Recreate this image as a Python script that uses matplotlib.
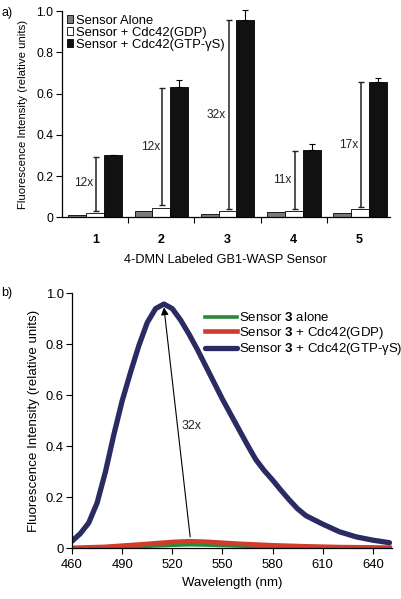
import numpy as np
import matplotlib
matplotlib.use('Agg')
import matplotlib.pyplot as plt

plt.rcParams['font.family'] = ['Liberation Sans', 'DejaVu Sans']
plt.rcParams['font.size'] = 9
plt.rcParams['mathtext.fontset'] = 'custom'
plt.rcParams['mathtext.rm'] = 'Liberation Sans'
plt.rcParams['mathtext.bf'] = 'Liberation Sans:bold'

# ---- panel a data ----
sensors = ['1', '2', '3', '4', '5']
alone = [0.013, 0.030, 0.016, 0.026, 0.020]
gdp = [0.024, 0.048, 0.030, 0.030, 0.040]
gtp = [0.301, 0.633, 0.958, 0.325, 0.655]
gtp_err = [0.004, 0.035, 0.045, 0.032, 0.021]
fold_lo = [0.032, 0.060, 0.043, 0.040, 0.050]
fold_hi = [0.293, 0.628, 0.957, 0.322, 0.655]
fold_txt = ['12x', '12x', '32x', '11x', '17x']
fold_y = [0.167, 0.341, 0.494, 0.180, 0.349]

# ---- panel b data ----
wl_blue = [460, 465, 470, 475, 480, 485, 490, 495, 500, 505, 510, 515, 520, 525,
           530, 535, 540, 545, 550, 555, 560, 565, 570, 575, 580, 585, 590, 595,
           600, 610, 620, 630, 640, 650]
blue = [0.028, 0.058, 0.100, 0.178, 0.300, 0.445, 0.578, 0.690, 0.795, 0.885,
        0.940, 0.958, 0.940, 0.895, 0.840, 0.780, 0.715, 0.650, 0.585, 0.525,
        0.465, 0.405, 0.348, 0.305, 0.268, 0.228, 0.190, 0.155, 0.128, 0.095,
        0.065, 0.045, 0.032, 0.022]
wl_small = [460, 480, 500, 520, 530, 540, 560, 580, 600, 620, 650]
red = [0.002, 0.006, 0.015, 0.025, 0.028, 0.026, 0.018, 0.012, 0.008, 0.005, 0.003]
green = [0.000, 0.002, 0.007, 0.012, 0.014, 0.013, 0.009, 0.005, 0.002, 0.001, 0.000]

fig = plt.figure(figsize=(4.01, 5.99), dpi=100)

# ================= panel a =================
ax = fig.add_axes([0.1539, 0.6369, 0.8187, 0.3447])
x = np.arange(1, 6)
w = 0.272
ax.bar(x - w, alone, w, color='#7a7a7a', edgecolor='k', lw=0.6, label='Sensor Alone')
ax.bar(x, gdp, w, color='white', edgecolor='k', lw=0.6, label='Sensor + Cdc42(GDP)')
ax.bar(x + w, gtp, w, color='#111111', edgecolor='k', lw=0.6,
       label='Sensor + Cdc42(GTP-\u03b3S)')
ax.errorbar(x + w, gtp, yerr=[np.zeros(5), gtp_err], fmt='none', ecolor='k',
            elinewidth=0.8, capsize=2.5, capthick=0.8, clip_on=False)
for i in range(5):
    bx = x[i] + 0.015
    ax.errorbar([bx], [(fold_lo[i] + fold_hi[i]) / 2],
                yerr=[[(fold_hi[i] - fold_lo[i]) / 2]], fmt='none', ecolor='#222222',
                elinewidth=1.1, capsize=2, capthick=1.0)
    ax.text(bx - 0.04, fold_y[i], fold_txt[i], ha='right', va='center', fontsize=8.6,
            color='#222222')
ax.set_xlim(0.49, 5.46)
ax.set_ylim(0, 1.0)
ax.set_yticks([0, 0.2, 0.4, 0.6, 0.8, 1.0])
ax.set_yticklabels(['0', '0.2', '0.4', '0.6', '0.8', '1.0'])
ax.set_xticks(x)
ax.set_xticklabels(sensors, fontweight='bold')
ax.set_xticks(np.arange(1.5, 5.5, 1), minor=True)
ax.tick_params(axis='x', which='major', length=0, pad=12, labelsize=9)
ax.tick_params(axis='x', which='minor', length=4, direction='out', width=0.8)
ax.tick_params(axis='y', length=4, width=0.8, direction='out', pad=2, labelsize=8.8)
for s in ['top', 'right']:
    ax.spines[s].set_visible(False)
for s in ['left', 'bottom']:
    ax.spines[s].set_linewidth(0.9)
ax.set_xlabel('4-DMN Labeled GB1-WASP Sensor', labelpad=6, fontsize=9.2)
ax.set_ylabel('Fluorescence Intensity (relative units)', labelpad=6, fontsize=8.2)
ax.legend(loc='upper left', bbox_to_anchor=(0.016, 0.982), frameon=False, fontsize=9.4,
          handlelength=0.48, handleheight=0.48, handletextpad=0.22, labelspacing=0.0,
          borderaxespad=0, borderpad=0)

# ================= panel b =================
bx2 = fig.add_axes([0.1796, 0.0846, 0.798, 0.4257])
bx2.plot(wl_small, green, color='#2a8a3c', lw=2.6, label='Sensor $\\mathbf{3}$ alone')
bx2.plot(wl_small, red, color='#d13b2c', lw=3.3, label='Sensor $\\mathbf{3}$ + Cdc42(GDP)')
bx2.plot(wl_blue, blue, color='#2a2b63', lw=3.8, solid_joinstyle='round',
         solid_capstyle='round', label='Sensor $\\mathbf{3}$ + Cdc42(GTP-\u03b3S)')
bx2.annotate('', xy=(515, 0.945), xytext=(530.7, 0.045),
             arrowprops=dict(arrowstyle='-|>', lw=0.8, color='k', mutation_scale=11,
                             shrinkA=0, shrinkB=0))
bx2.text(525.5, 0.48, '32x', ha='left', va='center', fontsize=8.9, color='#222222')
bx2.set_xlim(460, 651.5)
bx2.set_ylim(0, 1.0)
bx2.set_xticks(np.arange(460, 641, 30))
bx2.set_yticks([0, 0.2, 0.4, 0.6, 0.8, 1.0])
bx2.set_yticklabels(['0', '0.2', '0.4', '0.6', '0.8', '1.0'])
bx2.tick_params(length=4, width=0.8, direction='out', pad=2, labelsize=9.4)
bx2.tick_params(axis='x', pad=4)
for s in ['top', 'right']:
    bx2.spines[s].set_visible(False)
for s in ['left', 'bottom']:
    bx2.spines[s].set_linewidth(0.9)
bx2.set_xlabel('Wavelength (nm)', labelpad=4, fontsize=9.5)
bx2.set_ylabel('Fluorescence Intensity (relative units)', labelpad=4, fontsize=9.6)
bx2.legend(loc='upper left', bbox_to_anchor=(0.4156, 0.93), frameon=False, fontsize=9.5,
           handlelength=2.42, handletextpad=0.15, labelspacing=0.05, borderpad=0,
           borderaxespad=0)

fig.text(0.003, 0.978, 'a)', fontsize=9, va='center')
fig.text(0.003, 0.511, 'b)', fontsize=9, va='center')

fig.savefig('out.png', dpi=100)
